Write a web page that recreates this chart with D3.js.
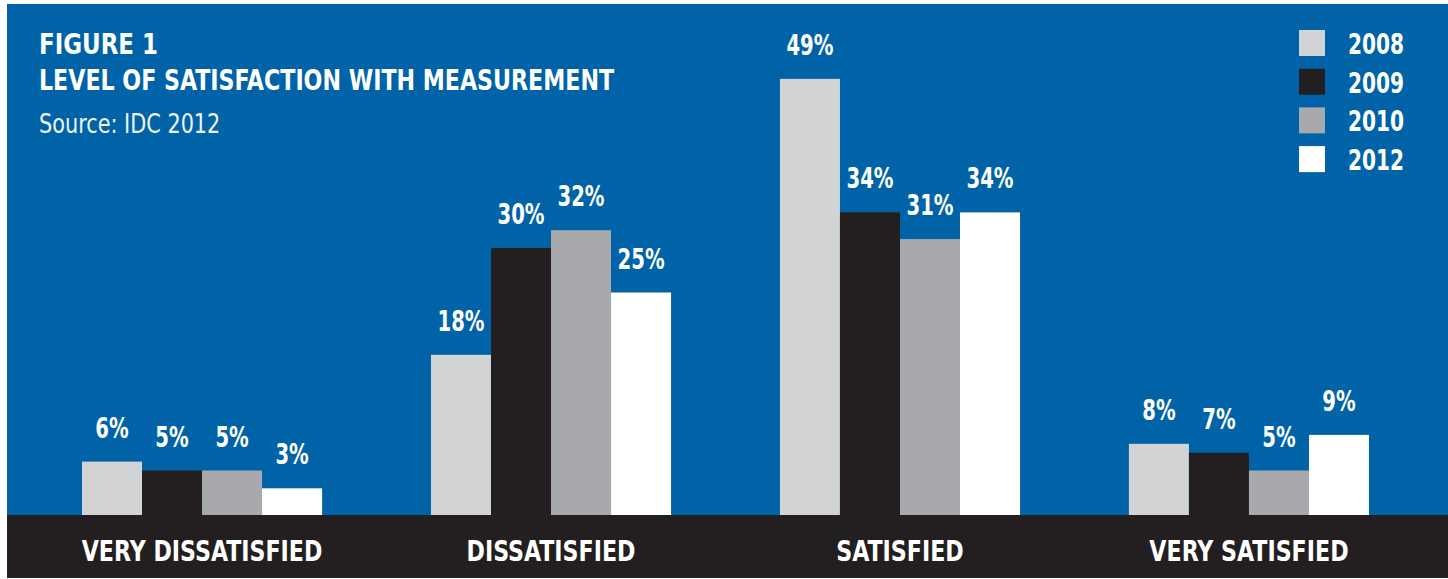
<!DOCTYPE html>
<html>
<head>
<meta charset="utf-8">
<script src="https://cdn.jsdelivr.net/npm/d3@7"></script>
<style>
  html, body { margin: 0; padding: 0; background: #fff; }
  svg text { font-family: "Liberation Sans Narrow", "DejaVu Sans Condensed", "Roboto", sans-serif; }
</style>
</head>
<body>
<svg id="chart" width="1448" height="579"></svg>
<script>
// satisfaction with measurement, by year
const categories = ['VERY DISSATISFIED', 'DISSATISFIED', 'SATISFIED', 'VERY SATISFIED'];
const years = ['2008', '2009', '2010', '2012'];
const v2008 = [6, 18, 49, 8];
const v2009 = [5, 30, 34, 7];
const v2010 = [5, 32, 31, 5];
const v2012 = [3, 25, 34, 9];
const series = [v2008, v2009, v2010, v2012];

const W = 1448, H = 579;
const svg = d3.select('#chart');
const colors = d3.scaleOrdinal().domain(years).range(['#d1d3d4', '#231f20', '#a7a9ac', '#ffffff']);

// no condensed face installed -> squeeze horizontally
const place = (x, y, k) => `translate(${x},${y}) scale(${k},1)`;
const KL = 0.88, KN = 0.78;

// panel + bottom band
svg.append('rect').attr('x', 7).attr('y', 4).attr('width', W - 7).attr('height', 511).attr('fill', '#0063a8');
svg.append('rect').attr('x', 7).attr('y', 515).attr('width', W - 7).attr('height', 63).attr('fill', '#231f20');

const x0 = d3.scaleBand().domain(categories).range([82, 1369]).paddingInner(0.312);
const x1 = d3.scaleBand().domain(years).range([0, x0.bandwidth()]);
const y = d3.scaleLinear().domain([0, 50]).range([515, 70]);

const rows = categories.map((c, i) => ({ cat: c, vals: years.map((yr, j) => ({ yr, v: series[j][i] })) }));

const g = svg.append('g').selectAll('g').data(rows).join('g')
  .attr('transform', d => `translate(${x0(d.cat)},0)`);

g.selectAll('rect').data(d => d.vals).join('rect')
  .attr('x', d => x1(d.yr)).attr('y', d => y(d.v))
  .attr('width', x1.bandwidth()).attr('height', d => 515 - y(d.v))
  .attr('fill', d => colors(d.yr));

g.selectAll('text.val').data(d => d.vals).join('text')
  .attr('class', 'val')
  .attr('transform', d => place(x1(d.yr) + x1.bandwidth() / 2, y(d.v) - 24, KN))
  .attr('text-anchor', 'middle').attr('fill', '#fff')
  .attr('font-size', 28).attr('font-weight', 'bold')
  .text(d => d.v + '%');

// category labels in the dark band
svg.append('g').selectAll('text').data(categories).join('text')
  .attr('transform', d => place(x0(d) + x0.bandwidth() / 2, 561, KL))
  .attr('text-anchor', 'middle').attr('fill', '#fff')
  .attr('font-size', 28).attr('font-weight', 'bold')
  .text(d => d);

// titles
svg.append('text').attr('transform', place(39, 54, KL)).attr('fill', '#fff')
  .attr('font-size', 29).attr('font-weight', 'bold').text('FIGURE 1');
svg.append('text').attr('transform', place(39, 90, KL)).attr('fill', '#fff')
  .attr('font-size', 28).attr('font-weight', 'bold').text('LEVEL OF SATISFACTION WITH MEASUREMENT');
svg.append('text').attr('transform', place(39, 133, 0.89)).attr('fill', '#f0f4f8')
  .attr('font-size', 26).text('Source: IDC 2012');

// legend
const leg = svg.append('g').selectAll('g').data(years).join('g')
  .attr('transform', (d, i) => `translate(1299,${30 + i * 38.7})`);
leg.append('rect').attr('width', 26).attr('height', 26).attr('fill', d => colors(d));
leg.append('text').attr('transform', place(49, 24, 0.8)).attr('fill', '#fff')
  .attr('font-size', 28).attr('font-weight', 'bold').text(d => d);
</script>
</body>
</html>
